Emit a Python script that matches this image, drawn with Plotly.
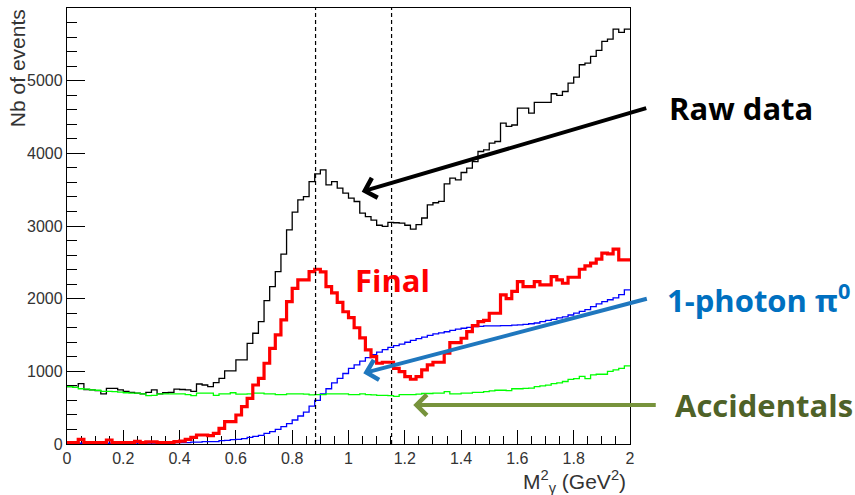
import numpy as np
import plotly.graph_objects as go

# ---------------- data (100 bins of width 0.02 GeV^2 on 0..2) ----------------
bin_width = 0.02
n_bins = 100

raw_data = [790, 780, 830, 750, 745, 735, 690, 765, 765, 745,
            725, 710, 700, 690, 710, 745, 690, 705, 710, 755,
            750, 745, 725, 826, 812, 790, 845, 904, 1005, 1005,
            1157, 1157, 1386, 1524, 1685, 1974, 2166, 2373, 2612, 2947,
            3190, 3360, 3405, 3612, 3718, 3773, 3566, 3612, 3521, 3452,
            3383, 3337, 3177, 3130, 3080, 3010, 2995, 3050, 3045, 3040,
            3010, 2956, 3020, 3110, 3290, 3320, 3340, 3580, 3660, 3635,
            3736, 3796, 3887, 4025, 4048, 4140, 4163, 4416, 4370, 4390,
            4622, 4622, 4554, 4700, 4700, 4700, 4820, 4797, 4851, 4967,
            5048, 5219, 5242, 5333, 5416, 5540, 5573, 5710, 5664, 5710]

final = [20, 20, 65, 20, 20, 20, 20, 55, 20, 20,
         20, 20, 35, 20, 30, 30, 20, 20, 20, 32,
         40, 64, 92, 124, 124, 115, 147, 216, 307, 307,
         399, 514, 629, 812, 904, 1111, 1317, 1501, 1707, 1960,
         2143, 2258, 2258, 2373, 2405, 2370, 2166, 2080, 1950, 1820,
         1740, 1600, 1460, 1294, 1202, 1111, 1125, 1125, 1042, 996,
         927, 891, 927, 1019, 1088, 1125, 1125, 1249, 1395, 1395,
         1455, 1546, 1630, 1684, 1700, 1799, 1799, 2052, 2000, 2100,
         2235, 2166, 2166, 2235, 2189, 2189, 2304, 2258, 2212, 2295,
         2295, 2405, 2451, 2488, 2543, 2626, 2616, 2681, 2534, 2534]

one_photon = [0, 0, 10, 0, 0, 0, 0, 10, 0, 0,
              0, 0, 0, 0, 0, 0, 0, 0, 0, 20,
              20, 20, 25, 25, 32, 32, 32, 46, 50, 60,
              65, 75, 90, 105, 120, 145, 170, 200, 240, 280,
              330, 385, 440, 520, 600, 690, 760, 840, 904, 970,
              1040, 1090, 1140, 1190, 1230, 1265, 1300, 1330, 1355, 1375,
              1400, 1425, 1450, 1470, 1495, 1515, 1530, 1545, 1565, 1580,
              1593, 1605, 1615, 1620, 1625, 1625, 1625, 1630, 1630, 1635,
              1640, 1645, 1655, 1665, 1684, 1700, 1715, 1735, 1750, 1775,
              1800, 1825, 1850, 1890, 1928, 1960, 1985, 2010, 2055, 2120]

accidentals = [790, 780, 760, 755, 745, 740, 725, 725, 720, 715,
               705, 700, 700, 690, 665, 670, 690, 690, 690, 690,
               690, 680, 665, 700, 700, 700, 670, 690, 690, 705,
               685, 685, 690, 700, 700, 690, 690, 680, 680, 690,
               690, 690, 685, 675, 680, 680, 690, 690, 690, 690,
               680, 680, 690, 680, 675, 670, 670, 665, 655, 680,
               680, 680, 685, 695, 695, 700, 700, 720, 690, 690,
               700, 700, 710, 710, 720, 730, 740, 740, 735, 760,
               760, 765, 770, 790, 800, 810, 830, 840, 860, 890,
               900, 930, 900, 950, 960, 960, 1000, 1020, 1040, 1075]

cut_lines = [0.883, 1.153]

x_ticks = [0, 0.2, 0.4, 0.6, 0.8, 1, 1.2, 1.4, 1.6, 1.8, 2]
y_ticks = [0, 1000, 2000, 3000, 4000, 5000]

edges = np.round(np.arange(n_bins + 1) * bin_width, 4)


def step(vals):
    return list(vals) + [vals[-1]]


fig = go.Figure()

series = [
    (raw_data, "#000000", 1.3, "Raw data"),
    (one_photon, "#0000ff", 1.3, "1-photon"),
    (accidentals, "#00ff00", 1.3, "Accidentals"),
    (final, "#ff0000", 3.2, "Final"),
]
for vals, color, width, name in series:
    fig.add_trace(go.Scatter(x=edges, y=step(vals), mode="lines",
                             line=dict(color=color, width=width, shape="hv"),
                             name=name, showlegend=False, hoverinfo="skip"))

for xc in cut_lines:
    fig.add_shape(type="line", xref="x", yref="paper", x0=xc, x1=xc, y0=0, y1=1,
                  line=dict(color="black", width=1.2, dash="4px,3px"))

tick_font = dict(family="Liberation Sans, Arial, sans-serif", size=16, color="#333333")

fig.update_xaxes(range=[0, 2], tickvals=x_ticks, ticktext=[str(t) for t in x_ticks],
                 ticks="inside", ticklen=14, tickwidth=1.3, tickcolor="black",
                 minor=dict(dtick=0.05, tick0=0, ticks="inside", ticklen=8,
                            tickwidth=1.2, tickcolor="black"),
                 showline=True, linecolor="black", linewidth=1.3, mirror=True,
                 showgrid=False, zeroline=False, tickfont=tick_font, layer="below traces")
fig.update_yaxes(range=[0, 6000], tickvals=y_ticks,
                 ticks="inside", ticklen=18, tickwidth=1.3, tickcolor="black",
                 minor=dict(dtick=200, tick0=0, ticks="inside", ticklen=10,
                            tickwidth=1.2, tickcolor="black"),
                 showline=True, linecolor="black", linewidth=1.3, mirror=True,
                 showgrid=False, zeroline=False, tickfont=tick_font, layer="below traces")

label_font = "Open Sans, DejaVu Sans, sans-serif"
annotations = [
    # axis titles
    dict(text="Nb of events", textangle=-90, xref="paper", yref="paper",
         x=-0.0888, y=1.002, xanchor="center", yanchor="top", showarrow=False,
         font=dict(family="Liberation Sans, Arial, sans-serif", size=21, color="#333333")),
    dict(text="M<sup>2</sup><sub>γ</sub> (GeV<sup>2</sup>)", xref="paper", yref="paper",
         x=0.9964, y=-0.085, xanchor="right", yanchor="middle", showarrow=False,
         font=dict(family="Liberation Sans, Arial, sans-serif", size=21, color="#333333")),
    # labels
    dict(text="<b>Raw data</b>", xref="paper", yref="paper", x=1.0657, y=0.7706,
         xanchor="left", yanchor="middle", showarrow=False,
         font=dict(family=label_font, size=31, color="#000000")),
    dict(text="<b>1-photon π<sup>0</sup></b>", xref="paper", yref="paper", x=1.0622, y=0.3326,
         xanchor="left", yanchor="middle", showarrow=False,
         font=dict(family=label_font, size=31, color="#0070C0")),
    dict(text="<b>Accidentals</b>", xref="paper", yref="paper", x=1.0764, y=0.0894,
         xanchor="left", yanchor="middle", showarrow=False,
         font=dict(family=label_font, size=31, color="#4F6228")),
    dict(text="<b>Final</b>", xref="x", yref="y", x=1.016, y=2257,
         xanchor="left", yanchor="middle", showarrow=False,
         font=dict(family=label_font, size=31, color="#FF0000")),
    # arrows
    dict(text="", xref="x", yref="y", x=1.047, y=3472, ax=286, ay=-84,
         axref="pixel", ayref="pixel", showarrow=True, arrowhead=4, arrowsize=1.0,
         arrowwidth=4, arrowcolor="#000000", standoff=0),
    dict(text="", xref="x", yref="y", x=1.0526, y=973, ax=285, ay=-75,
         axref="pixel", ayref="pixel", showarrow=True, arrowhead=4, arrowsize=1.0,
         arrowwidth=4, arrowcolor="#1F77BE", standoff=0),
    dict(text="", xref="x", yref="y", x=1.230, y=537, ax=244, ay=0,
         axref="pixel", ayref="pixel", showarrow=True, arrowhead=4, arrowsize=1.0,
         arrowwidth=4, arrowcolor="#77933C", standoff=0),
]

fig.update_layout(width=855, height=495, autosize=False,
                  margin=dict(l=67, r=225, t=8, b=51),
                  paper_bgcolor="white", plot_bgcolor="white",
                  annotations=annotations, showlegend=False)

fig.write_html("out.html", config={"displayModeBar": False},
               post_script="document.body.style.margin='0';document.body.style.padding='0';")
